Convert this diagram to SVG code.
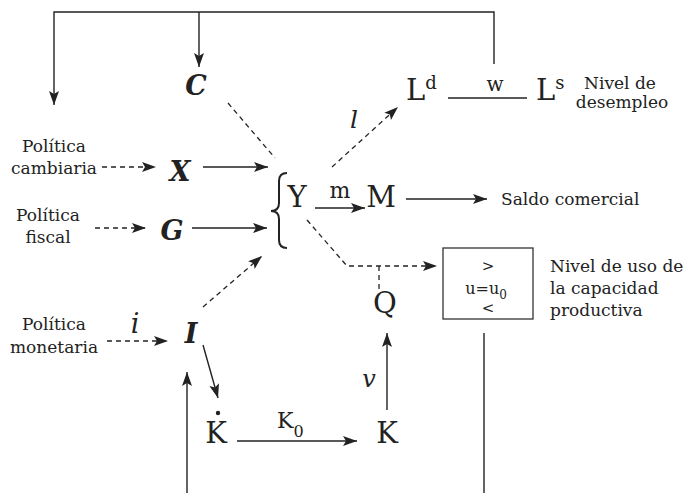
<svg xmlns="http://www.w3.org/2000/svg" width="687" height="493" viewBox="0 0 687 493">
<defs>
<marker id="ah" markerUnits="userSpaceOnUse" markerWidth="16" markerHeight="12" refX="14" refY="5" orient="auto">
<path d="M0,0 L14,5 L0,10 L3,5 z" fill="#222"/>
</marker>
<style>
.ln{stroke:#222;stroke-width:1.4;fill:none}
.ds{stroke:#222;stroke-width:1.3;fill:none;stroke-dasharray:5,4}
.ar{marker-end:url(#ah)}
.lb{font-family:"DejaVu Serif","Liberation Serif",serif;font-size:17px;fill:#222}
.big{font-family:"DejaVu Serif","Liberation Serif",serif;font-size:29px;fill:#222}
.bi{font-family:"DejaVu Serif","Liberation Serif",serif;font-size:27px;font-weight:bold;font-style:italic;fill:#222}
.it{font-family:"DejaVu Serif","Liberation Serif",serif;font-style:italic;fill:#222}
.md{font-family:"DejaVu Serif","Liberation Serif",serif;fill:#222}
</style>
</defs>
<rect width="687" height="493" fill="#fff"/>
<g id="connectors">
<polyline class="ln" points="494,64 494,12 54,12 54,105" marker-end="url(#ah)"/>
<line class="ln ar" x1="199" y1="12" x2="199" y2="67"/>
<line class="ds" x1="228" y1="103" x2="275" y2="158"/>
<line class="ds ar" x1="332" y1="167" x2="398" y2="107"/>
<line class="ln" x1="448" y1="98" x2="527" y2="98"/>
<line class="ds ar" x1="102" y1="167" x2="156" y2="167"/>
<line class="ln ar" x1="203" y1="167" x2="268" y2="167"/>
<line class="ds ar" x1="95" y1="228" x2="146" y2="228"/>
<line class="ln ar" x1="192" y1="228" x2="267" y2="228"/>
<line class="ds ar" x1="107" y1="341" x2="168" y2="341"/>
<line class="ds ar" x1="203" y1="307" x2="262" y2="256"/>
<line class="ln ar" x1="315" y1="208" x2="365" y2="208"/>
<line class="ln ar" x1="406" y1="199" x2="487" y2="199"/>
<polyline class="ds ar" points="307,220 347,266 437,266"/>
<line class="ds" x1="379" y1="266" x2="379" y2="292"/>
<line class="ln ar" x1="203" y1="345" x2="218" y2="398"/>
<line class="ln ar" x1="187" y1="493" x2="187" y2="372"/>
<line class="ln ar" x1="237" y1="441" x2="357" y2="441"/>
<line class="ln ar" x1="387" y1="410" x2="387" y2="333"/>
<line class="ln" x1="484" y1="333" x2="484" y2="493"/>
<path class="ln" style="stroke-width:2" d="M287,173 Q279,173 279,181 L279,203 Q279,211 271,211 Q279,211 279,219 L279,240 Q279,248 287,248"/>
<text class="it" x="354" y="128" font-size="25" text-anchor="middle">l</text>
<text class="md" x="340" y="198" font-size="22" text-anchor="middle">m</text>
<text class="md" x="495" y="91" font-size="20" text-anchor="middle">w</text>
<text class="it" x="135" y="333" font-size="27" text-anchor="middle">i</text>
<text class="md" x="277" y="428" font-size="22">K<tspan font-size="16" dy="9">0</tspan></text>
<text class="it" x="369" y="387" font-size="24" text-anchor="middle">v</text>
</g>
<g id="pol-cambiaria"><text class="lb" text-anchor="middle"><tspan x="54" y="152">Política</tspan><tspan x="54" y="174">cambiaria</tspan></text></g>
<g id="pol-fiscal"><text class="lb" text-anchor="middle"><tspan x="48" y="221">Política</tspan><tspan x="48" y="243">fiscal</tspan></text></g>
<g id="pol-monetaria"><text class="lb" text-anchor="middle"><tspan x="54" y="330">Política</tspan><tspan x="54" y="353">monetaria</tspan></text></g>
<g id="C"><text class="bi" x="196" y="95" text-anchor="middle">C</text></g>
<g id="X"><text class="bi" x="180" y="181" text-anchor="middle">X</text></g>
<g id="G"><text class="bi" x="172" y="240" text-anchor="middle">G</text></g>
<g id="I"><text class="bi" x="191" y="343" text-anchor="middle">I</text></g>
<g id="Y"><text class="big" x="297" y="207" text-anchor="middle">Y</text></g>
<g id="M"><text class="big" x="381" y="207" text-anchor="middle">M</text></g>
<g id="Ld"><text class="big" x="406" y="100" font-size="28">L<tspan font-size="18" dy="-11">d</tspan></text></g>
<g id="Ls"><text class="big" x="536" y="100" font-size="28">L<tspan font-size="18" dy="-11">s</tspan></text></g>
<g id="desempleo"><text class="lb" text-anchor="middle"><tspan x="620" y="89">Nivel de</tspan><tspan x="622" y="108">desempleo</tspan></text></g>
<g id="saldo"><text class="lb" x="501" y="205" font-size="17.5">Saldo comercial</text></g>
<g id="Q"><text class="big" x="385" y="313" text-anchor="middle">Q</text></g>
<g id="box">
<rect x="443" y="248" width="90" height="71" fill="none" stroke="#333" stroke-width="1.3"/>
<text class="md" x="488" y="271" font-size="15" text-anchor="middle">&gt;</text>
<text class="md" x="486" y="294" font-size="16" text-anchor="middle">u=u<tspan font-size="12" dy="5">0</tspan></text>
<text class="md" x="488" y="313" font-size="15" text-anchor="middle">&lt;</text>
</g>
<g id="uso"><text class="lb" font-size="17.5"><tspan x="550" y="272">Nivel de uso de</tspan><tspan x="550" y="294">la capacidad</tspan><tspan x="550" y="316">productiva</tspan></text></g>
<g id="Kdot"><text class="big" x="216" y="443" text-anchor="middle">K</text><circle cx="218" cy="413" r="2.2" fill="#222"/></g>
<g id="K"><text class="big" x="387" y="443" text-anchor="middle">K</text></g>
</svg>
